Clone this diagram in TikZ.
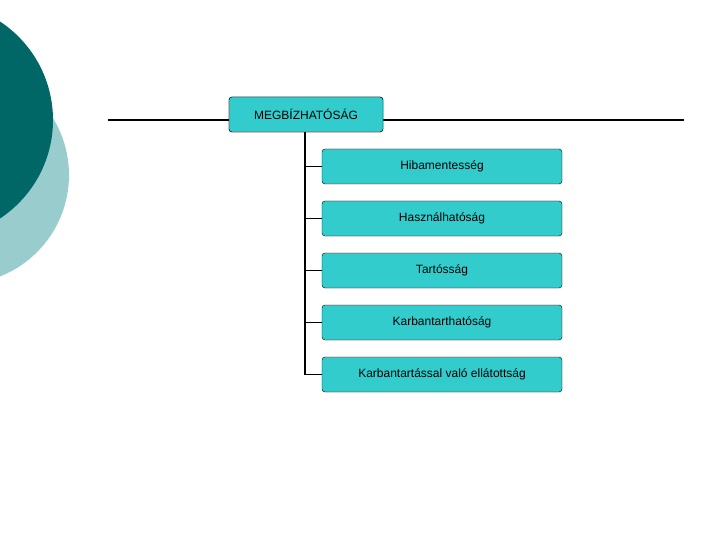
\documentclass[tikz,border=0pt]{standalone}
\usepackage{fontspec}
\setmainfont{Liberation Sans}
\begin{document}
\begin{tikzpicture}[x=1pt,y=-1pt,
  box/.style={draw=black,fill=boxc,rounded corners=3pt,minimum height=35pt,inner sep=0pt,font=\fontsize{12}{14}\selectfont},
  conn/.style={draw=black,line width=1.6pt}]
\definecolor{boxc}{HTML}{33CCCC}
\definecolor{darkt}{HTML}{006666}
\definecolor{lightt}{HTML}{99CCCC}
\useasboundingbox (0,0) rectangle (720,540);
\clip (0,0) rectangle (720,540);
\fill[lightt] (-40,175) circle (109);
\fill[darkt] (-65,120) circle (118);
\coordinate (L) at (108,120);
\coordinate (R) at (684,120);
\draw[conn] (L) -- (R);
\node[box,minimum width=154pt] (root) at (306,114.5) {MEGBÍZHATÓSÁG};
\foreach \y/\t/\n in {166.5/Hibamentesség/a,218.5/Használhatóság/b,270.5/Tartósság/c,322.5/Karbantarthatóság/d,374.5/Karbantartással való ellátottság/e}{
  \node[box,minimum width=240pt] (\n) at (442,\y) {\t};
}
\coordinate (v) at (305,132);
\draw[conn] (v) |- (e.west);
\foreach \n in {a,b,c,d}{ \draw[conn] (v |- \n.west) -- (\n.west); }
\node[box,minimum width=154pt] at (root) {MEGBÍZHATÓSÁG};
\end{tikzpicture}
\end{document}
